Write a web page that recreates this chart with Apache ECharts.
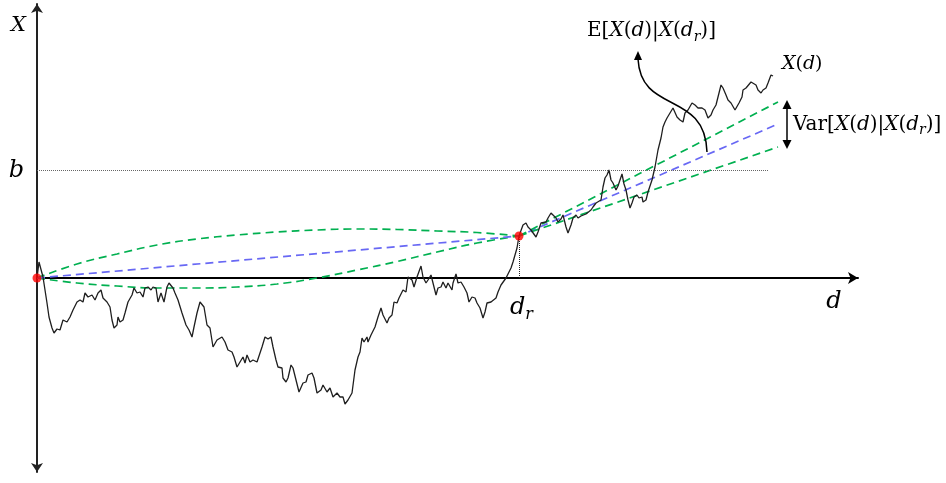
<!DOCTYPE html>
<html>
<head>
<meta charset="utf-8">
<script src="https://cdn.jsdelivr.net/npm/echarts@6/dist/echarts.min.js"></script>
<style>
  html, body { margin: 0; padding: 0; background: #fff; }
  #chart { width: 946px; height: 483px; }
</style>
</head>
<body>
<div id="chart"></div>
<script>
// Sample path X(d) up to the reference distance d_r, as [d, X] pairs
const pathToDr = [
  [0,0],[2,16],[4,15],[6,1],[10,-25],[12,-39],[15,-50],[17,-55],[20,-51],[23,-52],[26,-42],[30,-44],
  [33,-39],[36,-32],[40,-24],[43,-22],[46,-24],[48,-15],[51,-19],[55,-17],[58,-22],[61,-15],[64,-12],
  [66,-20],[70,-24],[73,-29],[75,-42],[77,-50],[80,-47],[81,-39],[83,-44],[86,-42],[88,-35],[91,-24],
  [95,-17],[97,-10],[100,-15],[103,-14],[106,-19],[108,-10],[111,-9],[114,-12],[116,-9],[119,-10],
  [121,-24],[124,-15],[127,-24],[130,-9],[132,-5],[136,-10],[138,-15],[141,-22],[145,-35],[147,-34],
  [149,-47],[152,-52],[155,-59],[157,-49],[160,-35],[163,-24],[167,-29],[170,-47],[173,-50],[176,-69],
  [180,-62],[185,-59],[188,-64],[191,-72],[195,-74],[197,-79],[200,-89],[203,-84],[206,-79],[208,-85],
  [210,-77],[213,-84],[216,-82],[220,-84],[223,-75],[225,-69],[228,-59],[231,-61],[234,-59],[236,-69],
  [239,-82],[241,-89],[245,-90],[246,-100],[249,-104],[251,-100],[254,-87],[256,-90],[259,-102],
  [262,-114],[266,-105],[269,-104],[271,-97],[275,-95],[277,-100],[280,-115],[284,-112],[286,-107],
  [290,-114],[293,-110],[296,-119],[300,-115],[303,-119],[306,-119],[308,-126],[311,-122],[315,-115],
  [318,-92],[321,-79],[323,-74],[325,-60],[327,-64],[330,-59],[331,-64],[334,-57],[336,-55],[338,-49],
  [341,-39],[344,-30],[346,-37],[350,-45],[352,-40],[355,-37],[357,-24],[360,-25],[362,-20],[366,-12],
  [369,-14],[371,1],[375,-2],[377,-9],[380,1],[382,3],[384,12],[386,1],[389,-5],[391,-2],[394,3],
  [396,-5],[399,-17],[401,-10],[404,-9],[406,-4],[409,-10],[411,-5],[415,-12],[416,-5],[419,4],
  [421,-5],[424,-4],[427,-9],[430,-15],[432,-24],[435,-19],[438,-20],[440,-25],[443,-30],[446,-40],
  [448,-34],[450,-25],[454,-24],[456,-22],[459,-20],[461,-14],[464,-7],[466,-5],[469,0],[471,-1],
  [474,10],[476,16],[478,23],[480,30],[482,42]
];

// Sample path X(d) beyond d_r
const pathFromDr = [
  [482,42],[486,53],[489,55],[491,51],[494,48],[496,46],[499,41],[501,46],[504,55],[506,53],[509,56],
  [511,60],[514,65],[516,66],[519,60],[521,56],[524,59],[526,63],[529,51],[531,45],[534,53],[536,60],
  [539,63],[541,60],[544,62],[546,60],[549,64],[551,63],[554,68],[556,71],[559,75],[561,73],[564,78],
  [566,91],[568,100],[570,103],[572,108],[574,98],[576,95],[579,88],[581,92],[583,98],[585,104],
  [587,94],[589,88],[591,78],[593,70],[595,75],[597,81],[600,83],[602,80],[605,81],[606,76],[609,78],
  [611,86],[615,98],[618,111],[621,128],[624,140],[626,151],[628,156],[630,160],[633,165],[636,170],
  [638,168],[640,161],[643,158],[646,156],[648,165],[651,168],[655,175],[658,173],[661,170],[665,170],
  [668,168],[671,160],[674,163],[676,168],[679,173],[681,181],[684,193],[686,190],[689,183],[691,178],
  [694,175],[696,173],[698,168],[700,166],[702,175],[705,181],[706,188],[709,190],[711,188],[714,196],
  [716,196],[719,193],[721,188],[724,185],[726,188],[729,190],[731,195],[734,203],[736,202]
];

// Conditioning points: the origin and (d_r, X(d_r))
const knownPoints = [[0, 0], [482, 42]];
const dr = 482;
const xAtDr = 42;

// Conditional mean E[X(d) | X(d_r)]
const meanLine = [[0, 0], [482, 42], [741, 154]];

// Spread band of the bridge between 0 and d_r
const bridgeUpper = [[0,0],[40,14],[80,24],[120,33],[160,39],[200,43],[240,46],[280,48],[320,49],[360,48.5],[400,47],[440,45.5],[482,42]];
const bridgeLower = [[0,0],[40,-5],[80,-8],[120,-10],[160,-10],[200,-9],[240,-6],[280,0],[320,8],[360,16.5],[400,26],[440,35],[482,42]];

// Spread band after d_r
const coneUpper = [[482, 42], [741, 176]];
const coneLower = [[482, 42], [741, 131]];

// Threshold level b
const bLevel = 108;
const bLineEnd = 731;

const SERIF = 'DejaVu Serif';
const GREEN = '#00b050';
const BLUE = '#6868f4';

function mathRich(size) {
  const sub = Math.round(size * 0.68);
  return {
    u: { fontFamily: SERIF, fontSize: size, lineHeight: size + 6, verticalAlign: 'middle', color: '#000' },
    i: { fontFamily: SERIF, fontStyle: 'italic', fontSize: size, lineHeight: size + 6, verticalAlign: 'middle', color: '#000' },
    s: { fontFamily: SERIF, fontStyle: 'italic', fontSize: sub, lineHeight: sub + 2, verticalAlign: 'bottom', color: '#000' }
  };
}

const chart = echarts.init(document.getElementById('chart'));

const dashed = (color, data, smooth) => ({
  type: 'line',
  data: data,
  smooth: smooth ? 0.45 : false,
  showSymbol: false,
  silent: true,
  z: 2,
  lineStyle: { color: color, width: 1.7, type: [8, 5] }
});

chart.setOption({
  animation: false,
  backgroundColor: '#fff',
  grid: { left: 37, right: 88, top: 4, bottom: 11 },
  xAxis: {
    type: 'value', min: 0, max: 821,
    axisLine: { show: true, onZero: true, symbol: ['none', 'arrow'], symbolSize: [9, 10],
      lineStyle: { color: '#000', width: 2 } },
    axisTick: { show: false }, axisLabel: { show: false }, splitLine: { show: false }
  },
  yAxis: {
    type: 'value', min: -194, max: 274,
    axisLine: { show: true, symbol: ['arrow', 'arrow'], symbolSize: [9, 9],
      lineStyle: { color: '#222', width: 2 } },
    axisTick: { show: false }, axisLabel: { show: false }, splitLine: { show: false }
  },
  series: [
    dashed(GREEN, bridgeUpper, true),
    dashed(GREEN, bridgeLower, true),
    dashed(BLUE, meanLine, false),
    dashed(GREEN, coneUpper, false),
    dashed(GREEN, coneLower, false),
    {
      type: 'line',
      data: pathToDr.concat(pathFromDr.slice(1)),
      showSymbol: false,
      silent: true,
      z: 3,
      lineStyle: { color: '#1f1f1f', width: 1.3 }
    },
    {
      type: 'scatter',
      data: knownPoints,
      symbolSize: 9,
      z: 5,
      itemStyle: { color: '#ff0000' },
      markLine: {
        silent: true,
        symbol: ['none', 'none'],
        animation: false,
        label: { show: false },
        emphasis: { disabled: true },
        data: [
          [{ coord: [0, bLevel], lineStyle: { color: '#666', type: 'dotted', width: 1 } },
           { coord: [bLineEnd, bLevel] }],
          [{ coord: [dr, 0], lineStyle: { color: '#222', type: 'dotted', width: 1 } },
           { coord: [dr, xAtDr] }]
        ]
      }
    }
  ]
});

// Labels and annotation arrows, placed relative to points of the grid
const P = (d, x) => chart.convertToPixel({ gridIndex: 0 }, [d, x]);
const yTop = P(0, 274);
const bPix = P(0, bLevel);
const xEnd = P(821, 0);
const drPix = P(dr, 0);
const pathEnd = P(736, 202);
const meanAnchor = P(670, 126);
const coneTop = P(741, 176);
const coneBot = P(741, 131);

function label(text, x, y, size, align) {
  return {
    type: 'text', x: x, y: y, z: 20, silent: true,
    style: { text: text, rich: mathRich(size), align: align || 'left', textAlign: align || 'left',
      verticalAlign: 'middle', textVerticalAlign: 'middle', fill: '#000' }
  };
}

const ax = meanAnchor[0], ay = meanAnchor[1];
const tip = [ax - 69, ay - 100];
const varX = coneTop[0] + 9;

chart.setOption({
  graphic: [
    label('{i|X}', yTop[0] - 11, yTop[1] + 22, 21, 'right'),
    label('{i|b}', bPix[0] - 13, bPix[1] + 1, 24, 'right'),
    label('{i|d}', xEnd[0] - 24, xEnd[1] + 24, 24, 'center'),
    label('{i|d}{s|r}', drPix[0] - 9, drPix[1] + 30, 24, 'left'),
    label('{u|E[}{i|X}{u|(}{i|d}{u|)|}{i|X}{u|(}{i|d}{s|r}{u|)]}', 587, 31, 20, 'left'),
    label('{i|X}{u|(}{i|d}{u|)}', pathEnd[0] + 9, pathEnd[1] - 12, 19, 'left'),
    label('{u|Var[}{i|X}{u|(}{i|d}{u|)|}{i|X}{u|(}{i|d}{s|r}{u|)]}', varX + 6, (coneTop[1] + coneBot[1]) / 2, 20, 'left'),
    {
      type: 'bezierCurve', z: 20, silent: true,
      shape: { x1: ax, y1: ay, cpx1: ax - 2, cpy1: ay - 62, cpx2: tip[0] + 3, cpy2: ay - 37, x2: tip[0], y2: tip[1] + 7 },
      style: { stroke: '#000', lineWidth: 1.5, fill: null }
    },
    {
      type: 'polygon', z: 20, silent: true,
      shape: { points: [[tip[0], tip[1] - 1], [tip[0] - 4, tip[1] + 8], [tip[0] + 4, tip[1] + 8]] },
      style: { fill: '#000' }
    },
    {
      type: 'line', z: 20, silent: true,
      shape: { x1: varX, y1: coneTop[1] + 4, x2: varX, y2: coneBot[1] - 4 },
      style: { stroke: '#000', lineWidth: 1.5 }
    },
    {
      type: 'polygon', z: 20, silent: true,
      shape: { points: [[varX, coneTop[1] - 2], [varX - 4.5, coneTop[1] + 7], [varX + 4.5, coneTop[1] + 7]] },
      style: { fill: '#000' }
    },
    {
      type: 'polygon', z: 20, silent: true,
      shape: { points: [[varX, coneBot[1] + 2], [varX - 4.5, coneBot[1] - 7], [varX + 4.5, coneBot[1] - 7]] },
      style: { fill: '#000' }
    }
  ]
});
</script>
</body>
</html>
